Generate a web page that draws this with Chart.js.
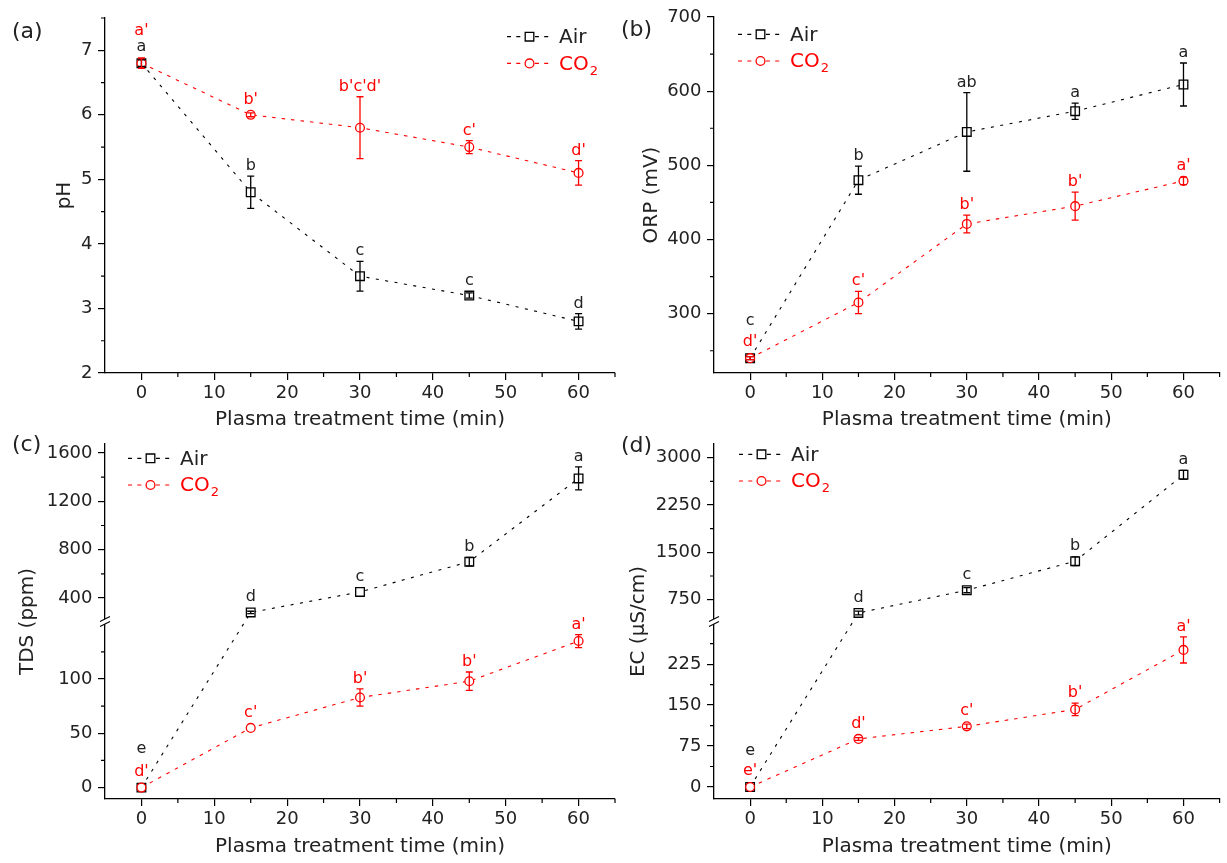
<!DOCTYPE html>
<html>
<head>
<meta charset="utf-8">
<script src="https://cdn.jsdelivr.net/npm/chart.js@4.4.1/dist/chart.umd.min.js"></script>
<style>
html,body{margin:0;padding:0;background:#fff;}
body{width:1227px;height:863px;overflow:hidden;position:relative;}
canvas{position:absolute;}
</style>
</head>
<body>
<canvas id="pa" width="625" height="432" style="left:0;top:0"></canvas>
<canvas id="pb" width="618" height="432" style="left:609px;top:0"></canvas>
<canvas id="pc" width="625" height="431" style="left:0;top:432px"></canvas>
<canvas id="pd" width="618" height="431" style="left:609px;top:432px"></canvas>
<script>
// ---------------- data ----------------
const times = [0, 15, 30, 45, 60];
const xTicks = [0, 10, 20, 30, 40, 50, 60];
const xMinor = [5, 15, 25, 35, 45, 55, 65];

// (a) pH
const phAir = [6.80, 4.80, 3.50, 3.20, 2.80];
const phAirErr = [0.05, 0.25, 0.23, 0.04, 0.12];
const phCO2 = [6.80, 6.00, 5.80, 5.50, 5.10];
const phCO2Err = [0.08, 0.03, 0.48, 0.10, 0.19];
const phAirLetters = ['a', 'b', 'c', 'c', 'd'];
const phCO2Letters = ["a'", "b'", "b'c'd'", "c'", "d'"];
const phTicks = [2, 3, 4, 5, 6, 7];
const phMinor = [2.5, 3.5, 4.5, 5.5, 6.5, 7.5];

// (b) ORP
const orpAir = [240, 480, 545, 573, 609];
const orpAirErr = [2, 19, 53, 11, 29];
const orpCO2 = [240, 315, 421, 445, 479];
const orpCO2Err = [2, 15, 12, 19, 5];
const orpAirLetters = ['c', 'b', 'ab', 'a', 'a'];
const orpCO2Letters = ["d'", "c'", "b'", "b'", "a'"];
const orpTicks = [300, 400, 500, 600, 700];
const orpMinor = [250, 350, 450, 550, 650];

// (c) TDS
const tdsAir = [0, 280, 450, 700, 1390];
const tdsAirErr = [0, 10, 0, 35, 95];
const tdsCO2 = [0, 55, 83, 98, 135];
const tdsCO2Err = [0, 0, 8, 8.5, 6];
const tdsAirLetters = ['e', 'd', 'c', 'b', 'a'];
const tdsCO2Letters = ["d'", "c'", "b'", "b'", "a'"];
const tdsTicks = [0, 50, 100, 400, 800, 1200, 1600];
const tdsMinor = [25, 75, 125, 600, 1000, 1400];
const tdsBreak = { lo: [-10.5, 153], hi: [205, 1675], split: 0.5 };

// (d) EC
const ecAir = [0, 540, 900, 1360, 2730];
const ecAirErr = [0, 30, 40, 70, 70];
const ecCO2 = [0, 88, 111, 142, 251];
const ecCO2Err = [0, 2.5, 4, 11.5, 24];
const ecAirLetters = ['e', 'd', 'c', 'b', 'a'];
const ecCO2Letters = ["e'", "d'", "c'", "b'", "a'"];
const ecTicks = [0, 75, 150, 225, 750, 1500, 2250, 3000];
const ecMinor = [37.5, 112.5, 187.5, 262.5, 1125, 1875, 2625];
const ecBreak = { lo: [-22, 303], hi: [404, 3218], split: 0.5 };

// ---------------- styling ----------------
const FAM = '"DejaVu Sans", "Liberation Sans", Arial, sans-serif';
const TXT = '#222';
const RED = '#ff0000';

// ---------------- broken (two-segment) linear scale ----------------
const BaseLinear = Chart.LinearScale || Chart.registry.getScale('linear');
class BrokenScale extends BaseLinear {
  getPixelForValue(v) {
    const b = this._brk;
    if (!b || v === null || v === undefined) return super.getPixelForValue(v);
    const H = this.bottom - this.top;
    const hLo = H * b.split;
    if (v <= (b.lo[1] + b.hi[0]) / 2) {
      return this.bottom - (v - b.lo[0]) / (b.lo[1] - b.lo[0]) * hLo;
    }
    return this.bottom - hLo - (v - b.hi[0]) / (b.hi[1] - b.hi[0]) * (H - hLo);
  }
  getValueForPixel(p) {
    const b = this._brk;
    if (!b) return super.getValueForPixel(p);
    const H = this.bottom - this.top;
    const hLo = H * b.split;
    const yb = this.bottom - hLo;
    if (p >= yb) return b.lo[0] + (this.bottom - p) / hLo * (b.lo[1] - b.lo[0]);
    return b.hi[0] + (yb - p) / (H - hLo) * (b.hi[1] - b.hi[0]);
  }
}
BrokenScale.id = 'broken';
BrokenScale.defaults = { ticks: { callback: (v) => String(v) } };
Chart.register(BrokenScale);

// ---------------- panel configs ----------------
const PANELS = {
  pa: { tag: '(a)', tagY: 32, ytitle: 'pH', yTitlePad: 53, air: phAir, airErr: phAirErr, co2: phCO2, co2Err: phCO2Err,
        airL: phAirLetters, co2L: phCO2Letters, yTicks: phTicks, yMinor: phMinor, ymin: 2, ymax: 7.5,
        padTop: 18, padRight: 10, xH: 59, xTitlePad: 0, legend: [402, 18.7], zeroTop: 'co2', stackGap: 16 },
  pb: { tag: '(b)', tagY: 30, ytitle: 'ORP (mV)', yTitlePad: 31, air: orpAir, airErr: orpAirErr, co2: orpCO2, co2Err: orpCO2Err,
        airL: orpAirLetters, co2L: orpCO2Letters, yTicks: orpTicks, yMinor: orpMinor, ymin: 220, ymax: 700,
        padTop: 17, padRight: 3, xH: 59, xTitlePad: 0, legend: [24, 17.3], zeroTop: 'air', stackGap: 21 },
  pc: { tag: '(c)', tagY: 13, ytitle: 'TDS (ppm)', yTitlePad: 16, air: tdsAir, airErr: tdsAirErr, co2: tdsCO2, co2Err: tdsCO2Err,
        airL: tdsAirLetters, co2L: tdsCO2Letters, yTicks: tdsTicks, yMinor: tdsMinor, brk: tdsBreak,
        padTop: 12, padRight: 10, xH: 64, xTitlePad: 4, legend: [23, 14.3], zeroTop: 'air', stackGap: 23 },
  pd: { tag: '(d)', tagY: 14, ytitle: 'EC (\u03bcS/cm)', yTitlePad: 17.5, air: ecAir, airErr: ecAirErr, co2: ecCO2, co2Err: ecCO2Err,
        airL: ecAirLetters, co2L: ecCO2Letters, yTicks: ecTicks, yMinor: ecMinor, brk: ecBreak,
        padTop: 12, padRight: 3, xH: 64, xTitlePad: 4, legend: [25, 10.3], zeroTop: 'air', stackGap: 20 }
};

// ---------------- decoration plugin (minor ticks, error bars, letters, legend) ----------------
function drawMarker(ctx, kind, x, y, color) {
  ctx.save();
  ctx.setLineDash([]);
  ctx.lineWidth = 1.3;
  ctx.strokeStyle = color;
  ctx.fillStyle = '#fff';
  ctx.beginPath();
  if (kind === 'rect') ctx.rect(x - 4.3, y - 4.3, 8.6, 8.6);
  else ctx.arc(x, y, 4.4, 0, Math.PI * 2);
  ctx.fill();
  ctx.stroke();
  ctx.restore();
}

const deco = {
  id: 'deco',
  afterDatasetsDraw(chart) {
    const P = PANELS[chart.canvas.id];
    const ctx = chart.ctx, xs = chart.scales.x, ys = chart.scales.y, ca = chart.chartArea;
    ctx.save();
    // minor ticks
    ctx.strokeStyle = '#000';
    ctx.lineWidth = 1.2;
    ctx.beginPath();
    xMinor.forEach(v => {
      const px = xs.getPixelForValue(v);
      ctx.moveTo(px, ca.bottom); ctx.lineTo(px, ca.bottom + 4);
    });
    P.yMinor.forEach(v => {
      const py = ys.getPixelForValue(v);
      ctx.moveTo(ca.left - 4, py); ctx.lineTo(ca.left, py);
    });
    ctx.stroke();
    // axis break marks
    if (P.brk) {
      const yb = ys.bottom - (ys.bottom - ys.top) * P.brk.split;
      ctx.fillStyle = '#fff';
      ctx.fillRect(ca.left - 3, yb - 2.5, 6, 5);
      ctx.beginPath();
      [-2.5, 2.5].forEach(o => {
        ctx.moveTo(ca.left - 5, yb + o + 2.5);
        ctx.lineTo(ca.left + 5, yb + o - 2.5);
      });
      ctx.lineWidth = 1.1;
      ctx.stroke();
    }
    // error bars
    const tops = [];
    chart.data.datasets.forEach((ds, di) => {
      ctx.strokeStyle = ds.borderColor;
      ctx.lineWidth = 1.3;
      tops[di] = [];
      ds.data.forEach((d, i) => {
        const e = ds.errors[i];
        const px = xs.getPixelForValue(d.x);
        const py = ys.getPixelForValue(d.y);
        let top = py - 5;
        if (e) {
          const y1 = ys.getPixelForValue(d.y + e), y2 = ys.getPixelForValue(d.y - e);
          ctx.beginPath();
          ctx.moveTo(px, y1); ctx.lineTo(px, y2);
          ctx.moveTo(px - 3.5, y1); ctx.lineTo(px + 3.5, y1);
          ctx.moveTo(px - 3.5, y2); ctx.lineTo(px + 3.5, y2);
          ctx.stroke();
          top = Math.min(top, y1);
        }
        tops[di][i] = top;
      });
    });
    // significance letters
    ctx.font = '16px ' + FAM;
    ctx.textAlign = 'center';
    ctx.textBaseline = 'alphabetic';
    chart.data.datasets.forEach((ds, di) => {
      ctx.fillStyle = ds.key === 'air' ? TXT : RED;
      ds.letters.forEach((L, i) => {
        const px = xs.getPixelForValue(ds.data[i].x);
        let y;
        if (i === 0) {
          const t = Math.min(tops[0][0], tops[1][0]) - 7;
          y = ds.key === P.zeroTop ? t - P.stackGap : t;
        } else {
          y = tops[di][i] - 6;
        }
        ctx.fillText(L, px, y);
      });
    });
    // legend
    const lx = ca.left + P.legend[0], ly = ca.top + P.legend[1];
    const rows = [chart.data.datasets.find(d => d.key === 'air'), chart.data.datasets.find(d => d.key === 'co2')];
    rows.forEach((ds, r) => {
      const y = ly + r * 26.7;
      ctx.save();
      ctx.strokeStyle = ds.borderColor;
      ctx.lineWidth = 1.2;
      ctx.setLineDash([4, 5.3]);
      ctx.beginPath();
      ctx.moveTo(lx, y); ctx.lineTo(lx + 46, y);
      ctx.stroke();
      ctx.restore();
      drawMarker(ctx, ds.key === 'air' ? 'rect' : 'circle', lx + 22.5, y, ds.borderColor);
      ctx.textAlign = 'left';
      ctx.textBaseline = 'middle';
      ctx.fillStyle = ds.key === 'air' ? TXT : RED;
      ctx.font = '20px ' + FAM;
      if (ds.key === 'air') {
        ctx.fillText('Air', lx + 52, y + 1);
      } else {
        ctx.fillText('CO', lx + 52, y + 1);
        const w = ctx.measureText('CO').width;
        ctx.font = '13px ' + FAM;
        ctx.fillText('2', lx + 52 + w + 1, y + 8);
      }
    });
    // panel tag
    ctx.fillStyle = TXT;
    ctx.font = '22px ' + FAM;
    ctx.textAlign = 'left';
    ctx.textBaseline = 'middle';
    ctx.fillText(P.tag, 12, P.tagY);
    ctx.restore();
  }
};

// ---------------- build charts ----------------
function makePanel(id) {
  const P = PANELS[id];
  const yScale = {
    type: P.brk ? 'broken' : 'linear',
    min: P.brk ? P.brk.lo[0] : P.ymin,
    max: P.brk ? P.brk.hi[1] : P.ymax,
    afterDataLimits: s => { if (P.brk) s._brk = P.brk; },
    afterBuildTicks: s => { s.ticks = P.yTicks.map(v => ({ value: v })); },
    afterFit: s => { s.width = 105; s.paddingTop = 0; s.paddingBottom = 0; },
    grid: { display: true, drawOnChartArea: false, drawTicks: true, tickLength: 7, color: '#000', lineWidth: 1.2 },
    border: { display: true, color: '#000', width: 1.3 },
    ticks: { font: { family: FAM, size: 18 }, color: TXT, padding: 5.5, autoSkip: false, callback: v => String(v) },
    title: { display: true, text: P.ytitle, font: { family: FAM, size: 20 }, color: TXT, padding: { top: P.yTitlePad, bottom: 0 } }
  };
  return new Chart(document.getElementById(id), {
    type: 'line',
    data: {
      datasets: [
        {
          key: 'air', label: 'Air',
          data: times.map((t, i) => ({ x: t, y: P.air[i] })),
          errors: P.airErr, letters: P.airL,
          borderColor: '#000', borderWidth: 1.1, borderDash: [3, 6.5], tension: 0, fill: false,
          pointStyle: 'rect', pointRadius: 6.1, pointBorderWidth: 1.3,
          pointBackgroundColor: '#fff', pointBorderColor: '#000', order: 2
        },
        {
          key: 'co2', label: 'CO2',
          data: times.map((t, i) => ({ x: t, y: P.co2[i] })),
          errors: P.co2Err, letters: P.co2L,
          borderColor: RED, borderWidth: 1.1, borderDash: [3.5, 6], tension: 0, fill: false,
          pointStyle: 'circle', pointRadius: 4.4, pointBorderWidth: 1.3,
          pointBackgroundColor: '#fff', pointBorderColor: RED, order: 1
        }
      ]
    },
    options: {
      responsive: false, animation: false, events: [],
      layout: { padding: { top: P.padTop, right: P.padRight, left: 0, bottom: 0 } },
      plugins: { legend: { display: false }, tooltip: { enabled: false }, title: { display: false } },
      scales: {
        x: {
          type: 'linear', min: -5, max: 65,
          afterBuildTicks: s => { s.ticks = xTicks.map(v => ({ value: v })); },
          afterFit: s => { s.height = P.xH; s.paddingLeft = 0; s.paddingRight = 0; },
          grid: { display: true, drawOnChartArea: false, drawTicks: true, tickLength: 7, color: '#000', lineWidth: 1.2 },
          border: { display: true, color: '#000', width: 1.3 },
          ticks: { font: { family: FAM, size: 18 }, color: TXT, padding: 2.5, autoSkip: false, maxRotation: 0, callback: v => String(v) },
          title: { display: true, text: 'Plasma treatment time (min)', font: { family: FAM, size: 20 }, color: TXT, padding: { top: 0, bottom: P.xTitlePad } }
        },
        y: yScale
      }
    },
    plugins: [deco]
  });
}
['pa', 'pb', 'pc', 'pd'].forEach(makePanel);
</script>
</body>
</html>
